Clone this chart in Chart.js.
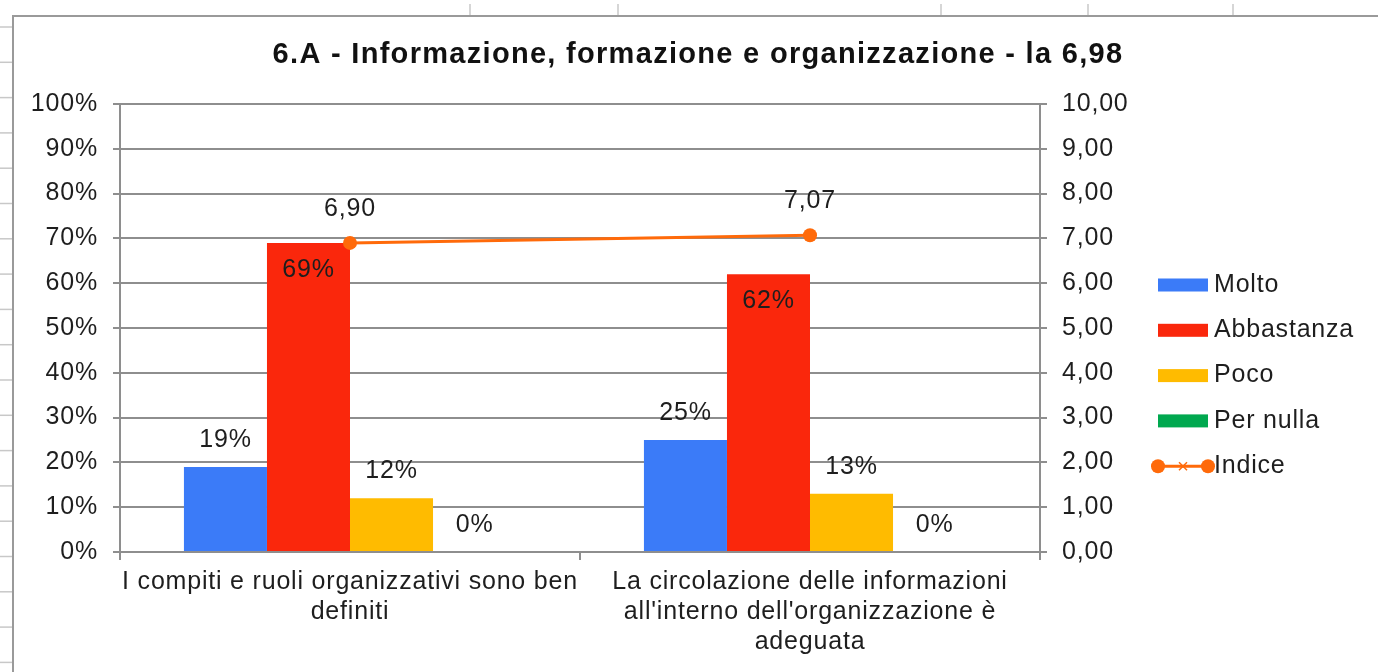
<!DOCTYPE html>
<html>
<head>
<meta charset="utf-8">
<script src="https://cdn.jsdelivr.net/npm/chart.js@4.4.1/dist/chart.umd.min.js"></script>
<style>
  html, body { margin: 0; padding: 0; background: #fff; }
  #wrap { width: 1378px; height: 672px; }
</style>
</head>
<body>
<div id="wrap"><canvas id="chart"></canvas></div>
<script>
const categories = [
  ["I compiti e ruoli organizzativi sono ben", "definiti"],
  ["La circolazione delle informazioni", "all'interno dell'organizzazione è", "adeguata"]
]
const molto = [19, 25]
const abbastanza = [69, 62]
const poco = [12, 13]
const perNulla = [0, 0]
const indice = [6.90, 7.07]
const titleText = "6.A - Informazione, formazione e organizzazione - la 6,98"

const FONT = "'Liberation Sans', Arial, sans-serif"
const GRID = "#8e8e8e"
const TEXT = "#1e1e1e"
const ORANGE = "#ff6a0a"

// spreadsheet cells behind the chart + chart frame
const sheetBackground = {
  id: "sheetBackground",
  beforeDraw(chart) {
    const ctx = chart.ctx
    // the source renders text slightly spaced out
    ctx.letterSpacing = "0.8px"
    ctx.save()
    ctx.fillStyle = "#fff"
    ctx.fillRect(0, 0, chart.width, chart.height)
    ctx.strokeStyle = "#c8c8c8"
    ctx.lineWidth = 1.5
    for (let y = 27; y < chart.height; y += 35.3) {
      ctx.beginPath(); ctx.moveTo(0, y); ctx.lineTo(13, y); ctx.stroke()
    }
    for (const x of [470, 618, 941, 1088, 1233]) {
      ctx.beginPath(); ctx.moveTo(x, 4); ctx.lineTo(x, 16); ctx.stroke()
    }
    ctx.strokeStyle = "#9a9a9a"
    ctx.lineWidth = 2
    ctx.beginPath()
    ctx.moveTo(chart.width, 16)
    ctx.lineTo(13, 16)
    ctx.lineTo(13, chart.height)
    ctx.stroke()
    ctx.restore()
  }
}

const chartTitle = {
  id: "chartTitle",
  afterDraw(chart) {
    const ctx = chart.ctx
    ctx.save()
    ctx.letterSpacing = "1.3px"
    ctx.font = "bold 29px " + FONT
    ctx.fillStyle = "#111"
    ctx.textAlign = "center"
    ctx.textBaseline = "alphabetic"
    ctx.fillText(titleText, 698, 63)
    ctx.restore()
  }
}

const valueLabels = {
  id: "valueLabels",
  afterDatasetsDraw(chart) {
    const ctx = chart.ctx
    ctx.save()
    ctx.font = "25px " + FONT
    ctx.fillStyle = TEXT
    ctx.textAlign = "center"
    ctx.textBaseline = "middle"
    chart.data.datasets.forEach((ds, i) => {
      const meta = chart.getDatasetMeta(i)
      meta.data.forEach((el, j) => {
        const v = ds.data[j]
        if (ds.type === "line") {
          ctx.fillText(v.toFixed(2).replace(".", ","), el.x, el.y - 34)
        } else {
          const y = ds.labelInside ? el.y + 27 : el.y - 27
          ctx.fillText(v + "%", el.x, y)
        }
      })
    })
    ctx.restore()
  }
}

const sideLegend = {
  id: "sideLegend",
  afterDraw(chart) {
    const ctx = chart.ctx
    const x0 = 1158, w = 50, top = 285, step = 45.3
    ctx.save()
    ctx.font = "25px " + FONT
    ctx.textBaseline = "middle"
    chart.data.datasets.forEach((ds, i) => {
      const y = top + i * step
      if (ds.type === "line") {
        ctx.strokeStyle = ds.borderColor
        ctx.fillStyle = ds.borderColor
        ctx.lineWidth = 3
        ctx.beginPath(); ctx.moveTo(x0, y); ctx.lineTo(x0 + w, y); ctx.stroke()
        for (const px of [x0, x0 + w]) {
          ctx.beginPath(); ctx.arc(px, y, 7, 0, Math.PI * 2); ctx.fill()
        }
        const cx = x0 + w / 2
        ctx.lineWidth = 1.5
        ctx.beginPath()
        ctx.moveTo(cx - 4, y - 4); ctx.lineTo(cx + 4, y + 4)
        ctx.moveTo(cx - 4, y + 4); ctx.lineTo(cx + 4, y - 4)
        ctx.stroke()
      } else {
        ctx.fillStyle = ds.backgroundColor
        ctx.fillRect(x0, y - 6.5, w, 13)
      }
      ctx.fillStyle = TEXT
      ctx.fillText(ds.label, x0 + w + 6, y)
    })
    ctx.restore()
  }
}

const barDefaults = { type: "bar", categoryPercentage: 0.722, barPercentage: 1, order: 1, yAxisID: "y" }

new Chart(document.getElementById("chart"), {
  data: {
    labels: categories,
    datasets: [
      { ...barDefaults, label: "Molto", data: molto, backgroundColor: "#3b7bf8" },
      { ...barDefaults, label: "Abbastanza", data: abbastanza, backgroundColor: "#fa270c", labelInside: true },
      { ...barDefaults, label: "Poco", data: poco, backgroundColor: "#ffbb00" },
      { ...barDefaults, label: "Per nulla", data: perNulla, backgroundColor: "#00a84f" },
      {
        type: "line", label: "Indice", data: indice, yAxisID: "y1", order: 0,
        borderColor: ORANGE, backgroundColor: ORANGE, borderWidth: 3,
        pointRadius: 7, pointBackgroundColor: ORANGE, pointBorderWidth: 0
      }
    ]
  },
  options: {
    responsive: true,
    maintainAspectRatio: false,
    animation: false,
    layout: { padding: { left: 0, top: 104, right: 238, bottom: 0 } },
    plugins: {
      legend: { display: false },
      tooltip: { enabled: false },
      title: { display: false }
    },
    scales: {
      x: {
        grid: { drawOnChartArea: false, drawTicks: true, tickLength: 8, color: GRID, lineWidth: 2 },
        border: { color: GRID, width: 2 },
        ticks: {
          color: TEXT, font: { family: FONT, size: 25, lineHeight: 1.2 },
          padding: 7, maxRotation: 0, autoSkip: false
        },
        afterFit: (scale) => { scale.height = 120 }
      },
      y: {
        position: "left",
        min: 0, max: 100,
        grid: { color: GRID, lineWidth: 2, tickLength: 7 },
        border: { color: GRID, width: 2 },
        ticks: {
          stepSize: 10, color: TEXT, padding: 15,
          font: { family: FONT, size: 25 },
          callback: (v) => v + "%"
        },
        afterFit: (scale) => { scale.width = 120 }
      },
      y1: {
        position: "right",
        min: 0, max: 10,
        grid: { drawOnChartArea: false, color: GRID, lineWidth: 2, tickLength: 7 },
        border: { color: GRID, width: 2 },
        ticks: {
          stepSize: 1, color: TEXT, padding: 15,
          font: { family: FONT, size: 25 },
          callback: (v) => v.toFixed(2).replace(".", ",")
        },
        afterFit: (scale) => { scale.width = 100 }
      }
    }
  },
  plugins: [sheetBackground, valueLabels, sideLegend, chartTitle]
})
</script>
</body>
</html>
